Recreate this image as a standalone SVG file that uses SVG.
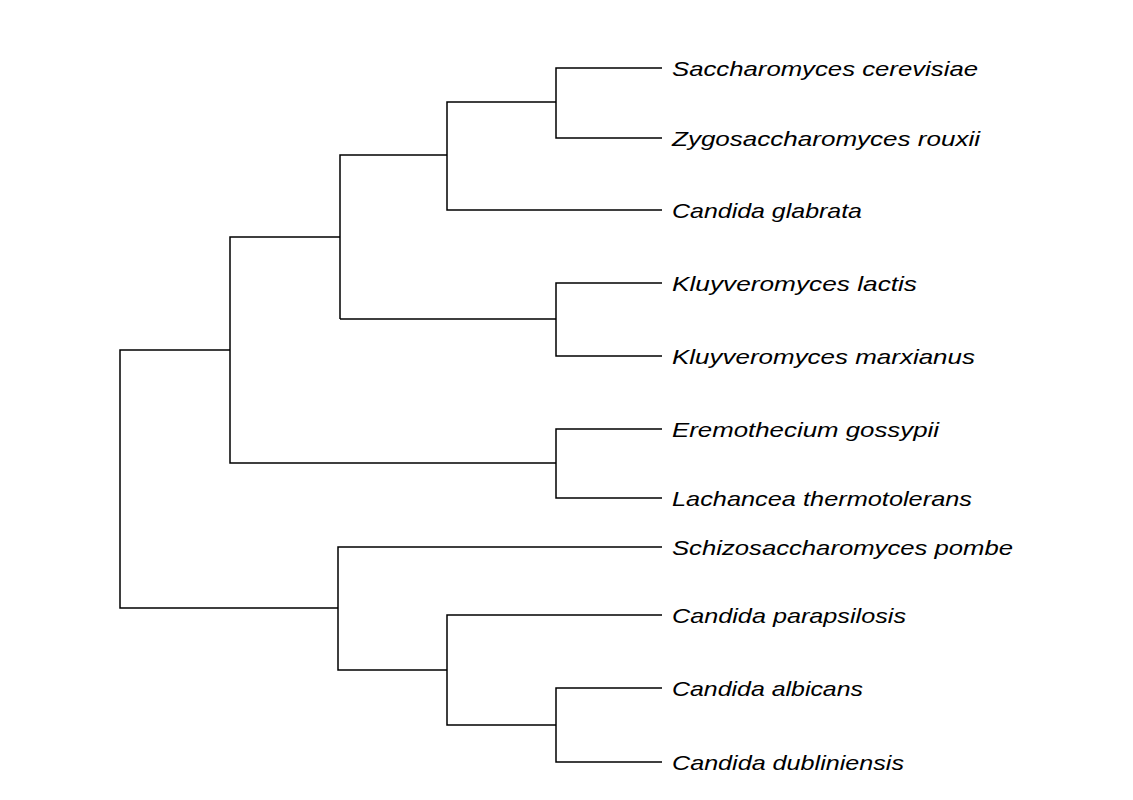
<svg xmlns="http://www.w3.org/2000/svg" width="1133" height="800" viewBox="0 0 1133 800">
<style>
.e{fill:none;stroke:#000;stroke-width:1.5}
text{font-family:"Liberation Sans",Arial,sans-serif;font-style:italic;font-size:21px;fill:#000;dominant-baseline:middle}
</style>
<rect width="1133" height="800" fill="#fff"/>
<g id="connectors">
<path class="e" d="M662 68H556V138H662M556 102H447V210H662"/>
<path class="e" d="M662 283H556V356H662M556 319H340M447 155H340V319"/>
<path class="e" d="M662 429H556V498H662M556 463H230V237H340"/>
<path class="e" d="M662 688H556V762H662M556 725H447V615H662M447 670H338V547H662"/>
<path class="e" d="M230 350H120V608H338"/>
</g>
<g id="n1"><text x="672" y="70" textLength="306" lengthAdjust="spacingAndGlyphs">Saccharomyces cerevisiae</text></g>
<g id="n2"><text x="672" y="140" textLength="308" lengthAdjust="spacingAndGlyphs">Zygosaccharomyces rouxii</text></g>
<g id="n3"><text x="672" y="212" textLength="190" lengthAdjust="spacingAndGlyphs">Candida glabrata</text></g>
<g id="n4"><text x="672" y="285" textLength="245" lengthAdjust="spacingAndGlyphs">Kluyveromyces lactis</text></g>
<g id="n5"><text x="672" y="358" textLength="303" lengthAdjust="spacingAndGlyphs">Kluyveromyces marxianus</text></g>
<g id="n6"><text x="672" y="431" textLength="267" lengthAdjust="spacingAndGlyphs">Eremothecium gossypii</text></g>
<g id="n7"><text x="672" y="500" textLength="300" lengthAdjust="spacingAndGlyphs">Lachancea thermotolerans</text></g>
<g id="n8"><text x="672" y="549" textLength="341" lengthAdjust="spacingAndGlyphs">Schizosaccharomyces pombe</text></g>
<g id="n9"><text x="672" y="617" textLength="234" lengthAdjust="spacingAndGlyphs">Candida parapsilosis</text></g>
<g id="n10"><text x="672" y="690" textLength="191" lengthAdjust="spacingAndGlyphs">Candida albicans</text></g>
<g id="n11"><text x="672" y="764" textLength="232" lengthAdjust="spacingAndGlyphs">Candida dubliniensis</text></g>
</svg>
